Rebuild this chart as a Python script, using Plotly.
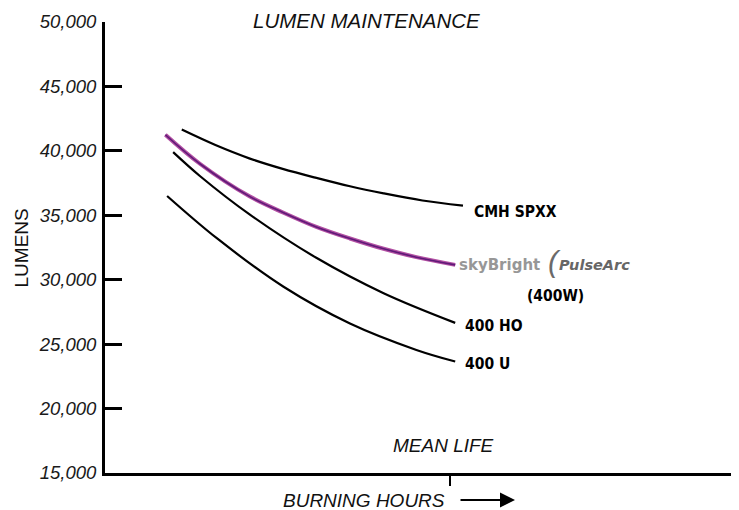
import plotly.graph_objects as go

# ---- data (burning hours, lumens) ----
MEAN_LIFE = 20000
X_MAX = 36750
Y_MIN, Y_MAX = 15000, 50000

LUMEN_TICKS = [15000, 20000, 25000, 30000, 35000, 40000, 45000, 50000]
LUMEN_LABELS = ["15,000", "20,000", "25,000", "30,000", "35,000", "40,000", "45,000", "50,000"]

CMH_X = [4450, 6400, 8400, 10300, 12250, 14200, 16150, 18400, 20750]
CMH_Y = [41650, 40450, 39400, 38600, 37900, 37250, 36700, 36150, 35750]

PULSE_X = [3500, 5500, 8400, 10350, 12250, 14200, 16150, 18050, 20300]
PULSE_Y = [41250, 39000, 36450, 35200, 34100, 33200, 32400, 31750, 31150]

HO_X = [3950, 5500, 8400, 12250, 16150, 20300]
HO_Y = [39900, 38050, 35050, 31700, 28950, 26650]

U_X = [3600, 6500, 10350, 14200, 18050, 20300]
U_Y = [36500, 33200, 29450, 26600, 24550, 23650]

FONT = "Liberation Sans, Arial, sans-serif"
NARROW = "DejaVu Sans Condensed, Liberation Sans, sans-serif"
WIDE = "DejaVu Sans, sans-serif"

fig = go.Figure()

def black_line(x, y):
    fig.add_trace(go.Scatter(x=x, y=y, mode="lines", line=dict(color="black", width=2.2, shape="spline", smoothing=1.0),
                             hoverinfo="skip", showlegend=False))

black_line(CMH_X, CMH_Y)
black_line(HO_X, HO_Y)
black_line(U_X, U_Y)
fig.add_trace(go.Scatter(x=PULSE_X, y=PULSE_Y, mode="lines",
                         line=dict(color="#b24fa2", width=4, shape="spline", smoothing=1.0),
                         hoverinfo="skip", showlegend=False))
fig.add_trace(go.Scatter(x=PULSE_X, y=PULSE_Y, mode="lines",
                         line=dict(color="#5f1a78", width=1.6, shape="spline", smoothing=1.0),
                         hoverinfo="skip", showlegend=False))

annotations = []

def label(x, y, text, xshift, yshift=0, size=15.5, color="black", family=NARROW, weight="bold", style="normal", anchor="left"):
    annotations.append(dict(x=x, y=y, xref="x", yref="y", text=text, showarrow=False,
                            xanchor=anchor, yanchor="middle", xshift=xshift, yshift=yshift,
                            font=dict(family=family, size=size, color=color, weight=weight, style=style)))

label(CMH_X[-1], CMH_Y[-1], "CMH SPXX", 9, -6)
label(HO_X[-1], HO_Y[-1], "400 HO", 8, -3)
label(U_X[-1], U_Y[-1], "400 U", 8, -2)
label(PULSE_X[-1], PULSE_Y[-1], "(400W)", 100, -31, anchor="center")
# logo
label(PULSE_X[-1], PULSE_Y[-1], "skyBright", 2, 0, size=15, color="#979797", family=WIDE, weight="bold")
label(PULSE_X[-1], PULSE_Y[-1], "(", 91, 3, size=30, color="#6a6a6a", family=FONT, weight="normal", style="italic")
label(PULSE_X[-1], PULSE_Y[-1], "PulseArc", 102, 0, size=14.5, color="#666666", family=WIDE, weight="bold", style="italic")

annotations += [
    dict(x=0.413, y=1, xref="paper", yref="paper", text="LUMEN MAINTENANCE", showarrow=False,
         xanchor="center", yanchor="middle", yshift=2, font=dict(family=FONT, size=20.5, style="italic", color="#111")),
    dict(x=MEAN_LIFE, y=0, xref="x", yref="paper", text="MEAN LIFE", showarrow=False,
         xanchor="center", yanchor="middle", xshift=-7, yshift=28, font=dict(family=FONT, size=19, style="italic", color="#111")),
    dict(x=0.539, y=0, xref="paper", yref="paper", text="BURNING HOURS", showarrow=False,
         xanchor="right", yanchor="middle", yshift=-27, font=dict(family=FONT, size=19, style="italic", color="#111")),
    dict(x=0.6467, y=0, xref="paper", yref="paper", text="", showarrow=True, ax=-56, ay=0,
         yshift=-27, arrowhead=2, arrowsize=1.5, arrowwidth=2, arrowcolor="black"),
    dict(x=-0.131, y=0.5, xref="paper", yref="paper", text="LUMENS", showarrow=False, textangle=-90,
         xanchor="center", yanchor="middle", font=dict(family=FONT, size=19, color="#111")),
]

# the page body adds an 8px offset; size the figure to fit the 739x510 window
fig.update_layout(
    width=731, height=502, autosize=False,
    margin=dict(l=97, r=0, t=14, b=37),
    paper_bgcolor="white", plot_bgcolor="white",
    showlegend=False,
    xaxis=dict(range=[0, X_MAX], showgrid=False, zeroline=False, showline=True, linewidth=3, linecolor="black",
               tickvals=[MEAN_LIFE], ticktext=[""], ticks="outside", ticklen=10, tickwidth=2, tickcolor="black"),
    xaxis2=dict(range=[0, X_MAX], overlaying="x", anchor="y", side="bottom", showgrid=False, zeroline=False,
                showline=False, tickvals=[MEAN_LIFE], ticktext=[""], ticks="inside", ticklen=14, tickwidth=2,
                tickcolor="black", showticklabels=False),
    yaxis=dict(range=[Y_MIN, Y_MAX], showgrid=False, zeroline=False, showline=True, linewidth=3, linecolor="black",
               tickvals=LUMEN_TICKS, ticktext=LUMEN_LABELS, ticks="inside", ticklen=17, tickwidth=3, tickcolor="black",
               ticklabelstandoff=2,
               tickfont=dict(family=FONT, size=18.5, style="italic", color="#1a1a1a")),
    annotations=annotations,
)

fig.write_html("out.html")
